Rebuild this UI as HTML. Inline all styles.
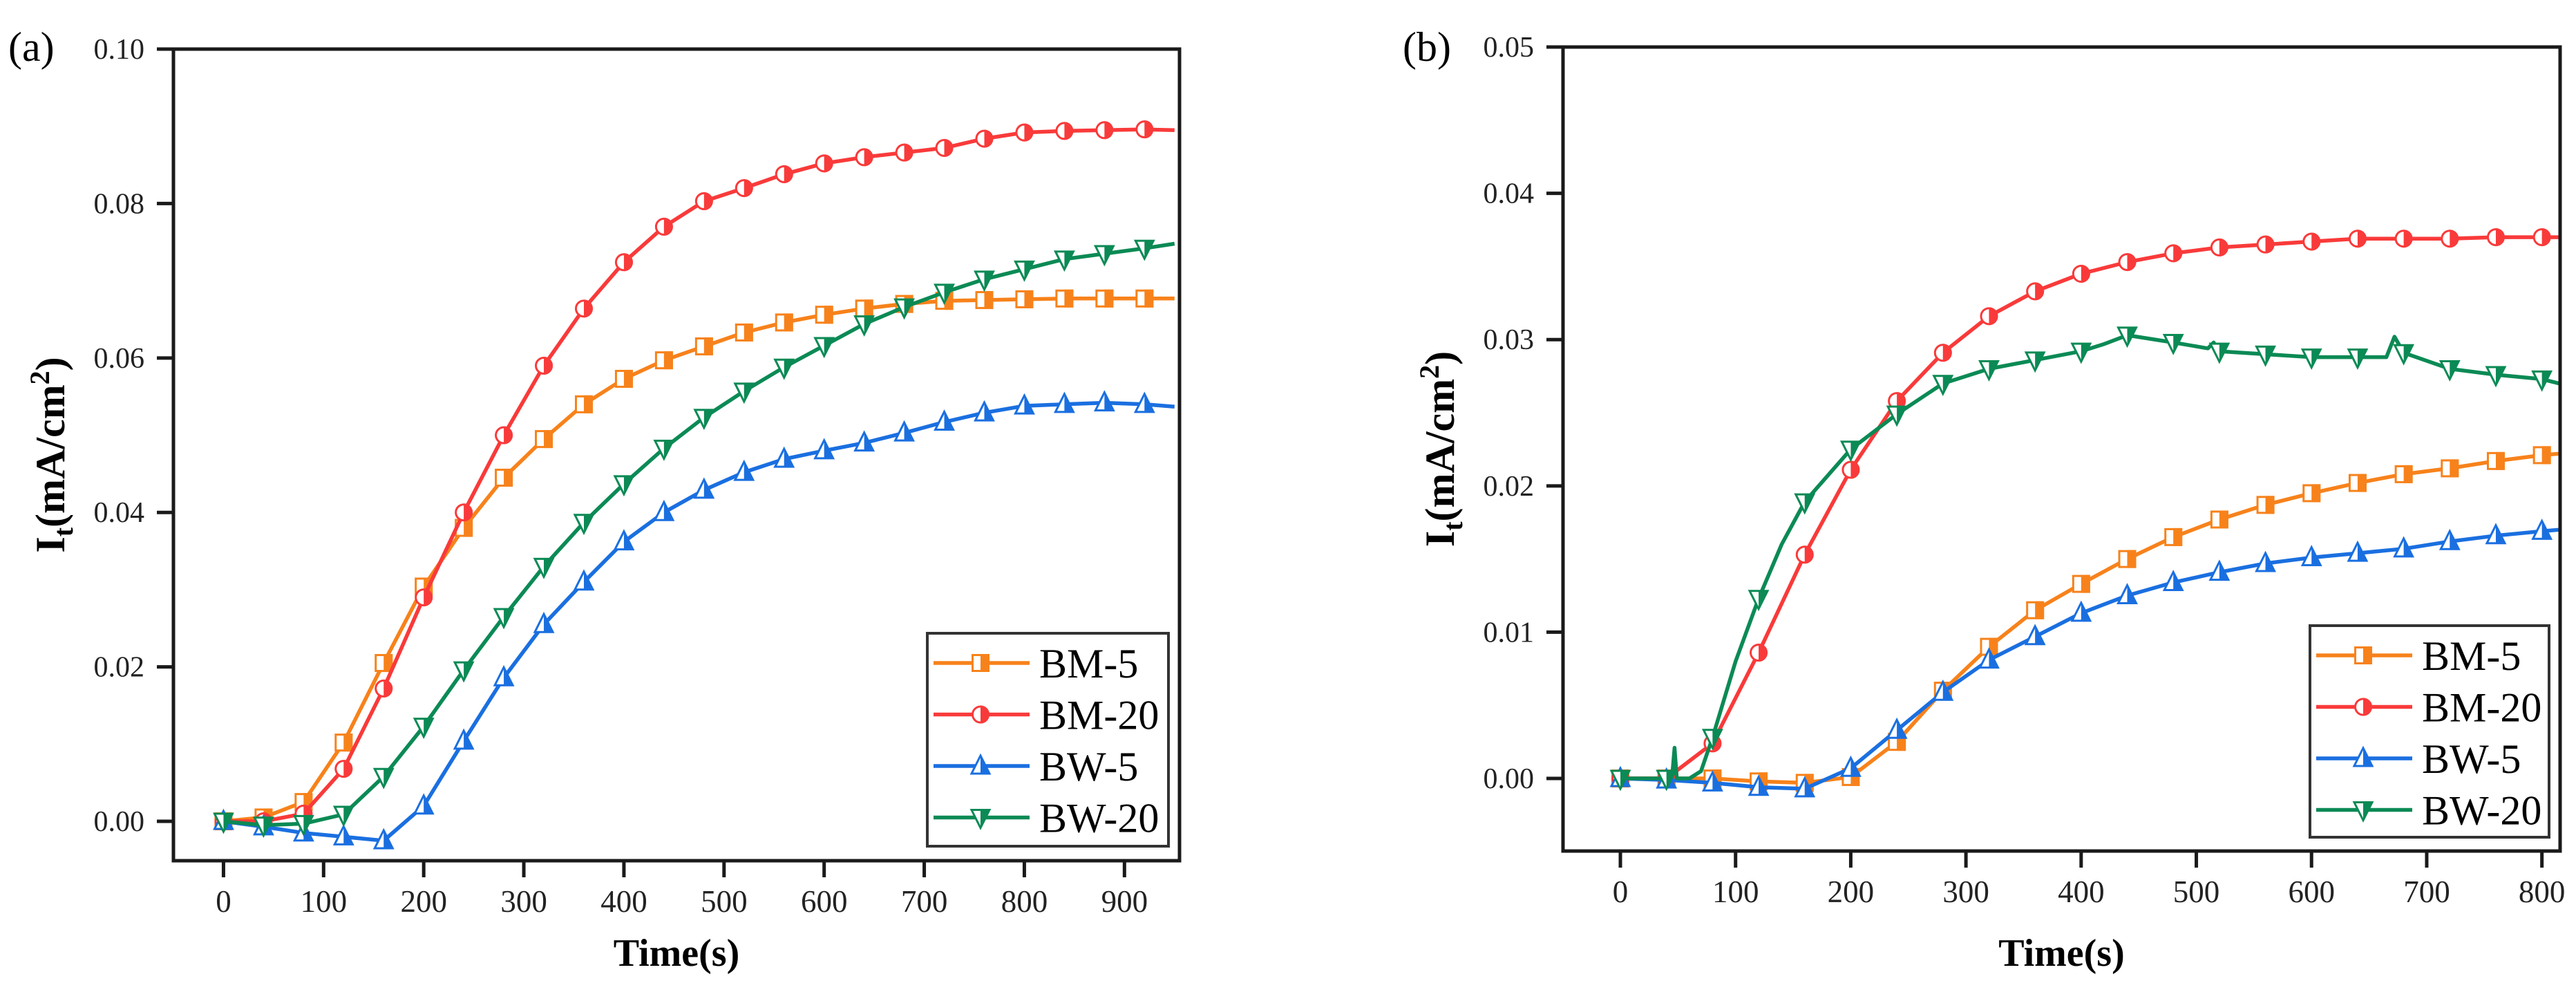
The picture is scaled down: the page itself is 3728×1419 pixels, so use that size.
<!DOCTYPE html>
<html><head><meta charset="utf-8"><style>
html,body{margin:0;padding:0;background:#fff;}
svg{display:block;font-family:"Liberation Serif",serif;}
</style></head><body>
<svg id="fig" width="3728" height="1419" viewBox="0 0 3728 1419"></svg>
<script>
// ---------- Panel (a) data ----------
const aTimes = [0,40,80,120,160,200,240,280,320,360,400,440,480,520,560,600,640,680,720,760,800,840,880,920,950];
const aBM5  = [0,0.0005,0.0025,0.0102,0.0205,0.0304,0.038,0.0445,0.0495,0.054,0.0573,0.0597,0.0615,0.0633,0.0646,0.0656,0.0664,0.067,0.0674,0.0675,0.0676,0.0677,0.0677,0.0677,0.0677];
const aBM20 = [0,0,0.001,0.0068,0.0172,0.029,0.040,0.050,0.059,0.0664,0.0724,0.077,0.0803,0.082,0.0838,0.0852,0.086,0.0866,0.0872,0.0884,0.0892,0.0894,0.0895,0.0896,0.0895];
const aBW5  = [0,-0.0007,-0.0015,-0.002,-0.0025,0.002,0.0104,0.0186,0.0255,0.031,0.0362,0.040,0.0429,0.0452,0.0469,0.048,0.049,0.0503,0.0517,0.0529,0.0538,0.054,0.0542,0.054,0.0537];
const aBW20 = [0,-0.0005,-0.0003,0.0009,0.0058,0.0123,0.0196,0.0265,0.033,0.0387,0.0437,0.0483,0.0523,0.0557,0.0588,0.0616,0.0644,0.0666,0.0685,0.0702,0.0715,0.0728,0.0735,0.0742,0.0748];
const aMarkerTimes = [0,40,80,120,160,200,240,280,320,360,400,440,480,520,560,600,640,680,720,760,800,840,880,920];
const aXTicks = [0,100,200,300,400,500,600,700,800,900];
const aYTicks = [0,0.02,0.04,0.06,0.08,0.10];
const aYLabels = ["0.00","0.02","0.04","0.06","0.08","0.10"];

// ---------- Panel (b) data ----------
const bTimes = [0,40,80,120,160,200,240,280,320,360,400,440,480,520,560,600,640,680,720,760,800,815];
const bBM5  = [0,0,0,-0.0002,-0.0003,0.0001,0.0025,0.006,0.009,0.0115,0.0133,0.015,0.0165,0.0177,0.0187,0.0195,0.0202,0.0208,0.0212,0.0217,0.0221,0.0222];
const bBM20 = [0,0,0.0024,0.0086,0.0153,0.0211,0.0258,0.0291,0.0316,0.0333,0.0345,0.0353,0.0359,0.0363,0.0365,0.0367,0.0369,0.0369,0.0369,0.037,0.037,0.037];
const bBW5  = [0,-0.0001,-0.0003,-0.0006,-0.0007,0.0007,0.0033,0.0059,0.0081,0.0097,0.0113,0.0125,0.0134,0.0141,0.0147,0.0151,0.0154,0.0157,0.0162,0.0166,0.0169,0.017];
const bBW20Times = [0,40,45,47,49,60,70,80,100,120,140,160,200,240,280,320,360,400,420,440,480,510,515,520,560,600,640,665,672,680,720,760,800,815];
const bBW20 = [0,0,0.0002,0.0021,0,0,0.0005,0.0028,0.008,0.0123,0.016,0.0189,0.0225,0.0249,0.027,0.028,0.0286,0.0292,0.0297,0.0303,0.0298,0.0294,0.0298,0.0292,0.029,0.0288,0.0288,0.0288,0.0302,0.0291,0.028,0.0276,0.0273,0.027];
const bMarkerTimes = [0,40,80,120,160,200,240,280,320,360,400,440,480,520,560,600,640,680,720,760,800];
const bXTicks = [0,100,200,300,400,500,600,700,800];
const bYTicks = [0,0.01,0.02,0.03,0.04,0.05];
const bYLabels = ["0.00","0.01","0.02","0.03","0.04","0.05"];

const seriesNames = ["BM-5","BM-20","BW-5","BW-20"];
const colors = ["#f7821b","#f93a3a","#1a6fe0","#0b8a55"];
const shapes = ["square","circle","up","down"];

const NS = "http://www.w3.org/2000/svg";
const svg = document.getElementById('fig');
function el(tag, attrs, parent){
  const e = document.createElementNS(NS, tag);
  for (const k in attrs) e.setAttribute(k, attrs[k]);
  (parent||svg).appendChild(e);
  return e;
}
function interp(ts, vs, t){
  for (let i=0;i<ts.length-1;i++){
    if (t>=ts[i] && t<=ts[i+1]){ const f=(t-ts[i])/(ts[i+1]-ts[i]); return vs[i]+f*(vs[i+1]-vs[i]); }
  }
  return vs[vs.length-1];
}
function marker(g, shape, cx, cy, color){
  const s = 13;
  if (shape==="square"){
    el('rect',{x:cx-s+1.5,y:cy-s+1.5,width:2*s-3,height:2*s-3,fill:'#fff',stroke:color,'stroke-width':3},g);
    el('rect',{x:cx,y:cy-s,width:s,height:2*s,fill:color},g);
  } else if (shape==="circle"){
    el('circle',{cx:cx,cy:cy,r:s-1.5,fill:'#fff',stroke:color,'stroke-width':3},g);
    el('path',{d:`M${cx},${cy-s} A${s},${s} 0 0 1 ${cx},${cy+s} Z`,fill:color},g);
  } else if (shape==="up"){
    el('polygon',{points:`${cx},${cy-s-2} ${cx+s},${cy+s-2} ${cx-s},${cy+s-2}`,fill:'#fff',stroke:color,'stroke-width':3},g);
    el('polygon',{points:`${cx},${cy-s-2} ${cx+s},${cy+s-2} ${cx},${cy+s-2}`,fill:color},g);
  } else {
    el('polygon',{points:`${cx-s},${cy-s+2} ${cx+s},${cy-s+2} ${cx},${cy+s+2}`,fill:'#fff',stroke:color,'stroke-width':3},g);
    el('polygon',{points:`${cx},${cy-s+2} ${cx+s},${cy-s+2} ${cx},${cy+s+2}`,fill:color},g);
  }
}

function panel(cfg){
  const g = el('g',{});
  
  
  const X = t => cfg.x0 + (t - cfg.tmin)/(cfg.tmax-cfg.tmin)*(cfg.x1-cfg.x0);
  const Y = v => cfg.y1 - (v - cfg.vmin)/(cfg.vmax-cfg.vmin)*(cfg.y1-cfg.y0);
  cfg.series.forEach((s,i)=>{
    const sg = el('g',{},g);
    
    
    const pts = s.t.map((t,j)=>X(t).toFixed(1)+','+Y(s.v[j]).toFixed(1)).join(' ');
    el('polyline',{points:pts,fill:'none',stroke:colors[i],'stroke-width':5.5,'stroke-linejoin':'round'},sg);
    cfg.markerTimes.forEach(t=>{
      const mg = el('g',{},sg);
      
      
      marker(mg, shapes[i], X(t), Y(interp(s.t,s.v,t)), colors[i]);
    });
  });
  const fr = el('rect',{x:cfg.x0,y:cfg.y0,width:cfg.x1-cfg.x0,height:cfg.y1-cfg.y0,fill:'none',stroke:'#1a1a1a','stroke-width':5},g);
  
  
  cfg.xTicks.forEach(t=>{
    el('line',{x1:X(t),x2:X(t),y1:cfg.y1,y2:cfg.y1+24,stroke:'#1a1a1a','stroke-width':5},g);
    const tx = el('text',{x:X(t),y:cfg.y1+74,'text-anchor':'middle','font-size':45,fill:'#222'},g);
    tx.textContent = String(t);
    
    
  });
  cfg.yTicks.forEach((v,k)=>{
    el('line',{x1:cfg.x0-24,x2:cfg.x0,y1:Y(v),y2:Y(v),stroke:'#1a1a1a','stroke-width':5},g);
    const ty = el('text',{x:cfg.x0-42,y:Y(v)+14,'text-anchor':'end','font-size':42,fill:'#222'},g);
    ty.textContent = cfg.yLabels[k];
    
    
  });
  const xt = el('text',{x:(cfg.x0+cfg.x1)/2,y:1397,'text-anchor':'middle','font-size':56,'font-weight':'bold',fill:'#000'},g);
  xt.textContent = 'Time(s)';
  
  
  const yt = el('text',{x:0,y:0,'text-anchor':'middle','font-size':60,'font-weight':'bold',fill:'#000',transform:`translate(${cfg.x0-158},${(cfg.y0+cfg.y1)/2}) rotate(-90)`},g);
  yt.innerHTML = 'I<tspan font-size="40" dy="12">t</tspan><tspan dy="-12">(mA/cm</tspan><tspan font-size="40" dy="-22">2</tspan><tspan dy="22">)</tspan>';
  
  
  const pl = el('text',{x:cfg.labX,y:88,'font-size':60,fill:'#000'},g);
  pl.textContent = cfg.label;
  
  
  const lg = el('g',{},g);
  
  
  el('rect',{x:cfg.lx,y:cfg.ly,width:cfg.lw,height:cfg.lh,fill:'#fff',stroke:'#333','stroke-width':4},lg);
  seriesNames.forEach((n,i)=>{
    const eg = el('g',{},lg);
    
    
    const cy = cfg.ly + 43 + i*74.5;
    el('line',{x1:cfg.lx+9,x2:cfg.lx+148,y1:cy,y2:cy,stroke:colors[i],'stroke-width':5.5},eg);
    marker(eg, shapes[i], cfg.lx+77, cy, colors[i]);
    const t = el('text',{x:cfg.lx+162,y:cy+21,'font-size':60,fill:'#000'},eg);
    t.textContent = n;
  });
}

panel({name:'panel-a', label:'(a)', labX:12,
  x0:251, x1:1707, y0:71, y1:1245, tmin:-50, tmax:955, vmin:-0.0051, vmax:0.10,
  series:[{t:aTimes,v:aBM5},{t:aTimes,v:aBM20},{t:aTimes,v:aBW5},{t:aTimes,v:aBW20}],
  markerTimes:aMarkerTimes, xTicks:aXTicks, yTicks:aYTicks, yLabels:aYLabels,
  lx:1342, ly:916, lw:349, lh:308});

panel({name:'panel-b', label:'(b)', labX:2030,
  x0:2262, x1:3705, y0:68, y1:1231, tmin:-49.8, tmax:815.8, vmin:-0.00496, vmax:0.05,
  series:[{t:bTimes,v:bBM5},{t:bTimes,v:bBM20},{t:bTimes,v:bBW5},{t:bBW20Times,v:bBW20}],
  markerTimes:bMarkerTimes, xTicks:bXTicks, yTicks:bYTicks, yLabels:bYLabels,
  lx:3343, ly:905, lw:346, lh:306});
</script>
</body></html>
